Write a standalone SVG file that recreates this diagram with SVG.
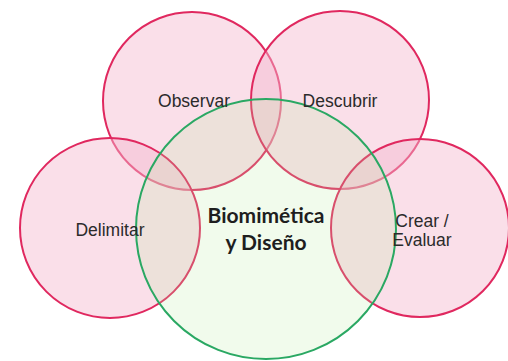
<svg xmlns="http://www.w3.org/2000/svg" width="508" height="361" viewBox="0 0 508 361">
<style>
.p{fill:#f5b8cf;fill-opacity:0.45;stroke:#e0285f;stroke-width:2}
.g{fill:#bbeda0;fill-opacity:0.2;stroke:#2aa863;stroke-width:2}
.t{font-family:"Liberation Sans",Arial,sans-serif;font-size:17.5px;fill:#2b2b2b;text-anchor:middle}
.c{font-family:Lato,"Open Sans",sans-serif;font-size:21px;font-weight:bold;fill:#1e1e1e;text-anchor:middle}
</style>
<rect width="508" height="361" fill="#fff"/>
<g id="observar"><circle class="p" cx="192" cy="101" r="89"/></g>
<g id="descubrir"><circle class="p" cx="340" cy="100" r="89"/></g>
<g id="delimitar"><circle class="p" cx="110" cy="228" r="90"/></g>
<g id="crear"><circle class="p" cx="420" cy="228" r="89"/></g>
<g id="centro"><circle class="g" cx="266" cy="229" r="130"/></g>
<g id="labels">
<text class="t" x="194" y="107">Observar</text>
<text class="t" x="340" y="107">Descubrir</text>
<text class="t" x="110" y="236">Delimitar</text>
<text class="t" x="422" y="227">Crear /</text>
<text class="t" x="422" y="246">Evaluar</text>
<text class="c" x="266" y="223">Biomimética</text>
<text class="c" x="266" y="250">y Diseño</text>
</g>
<g id="connectors"/>
</svg>
